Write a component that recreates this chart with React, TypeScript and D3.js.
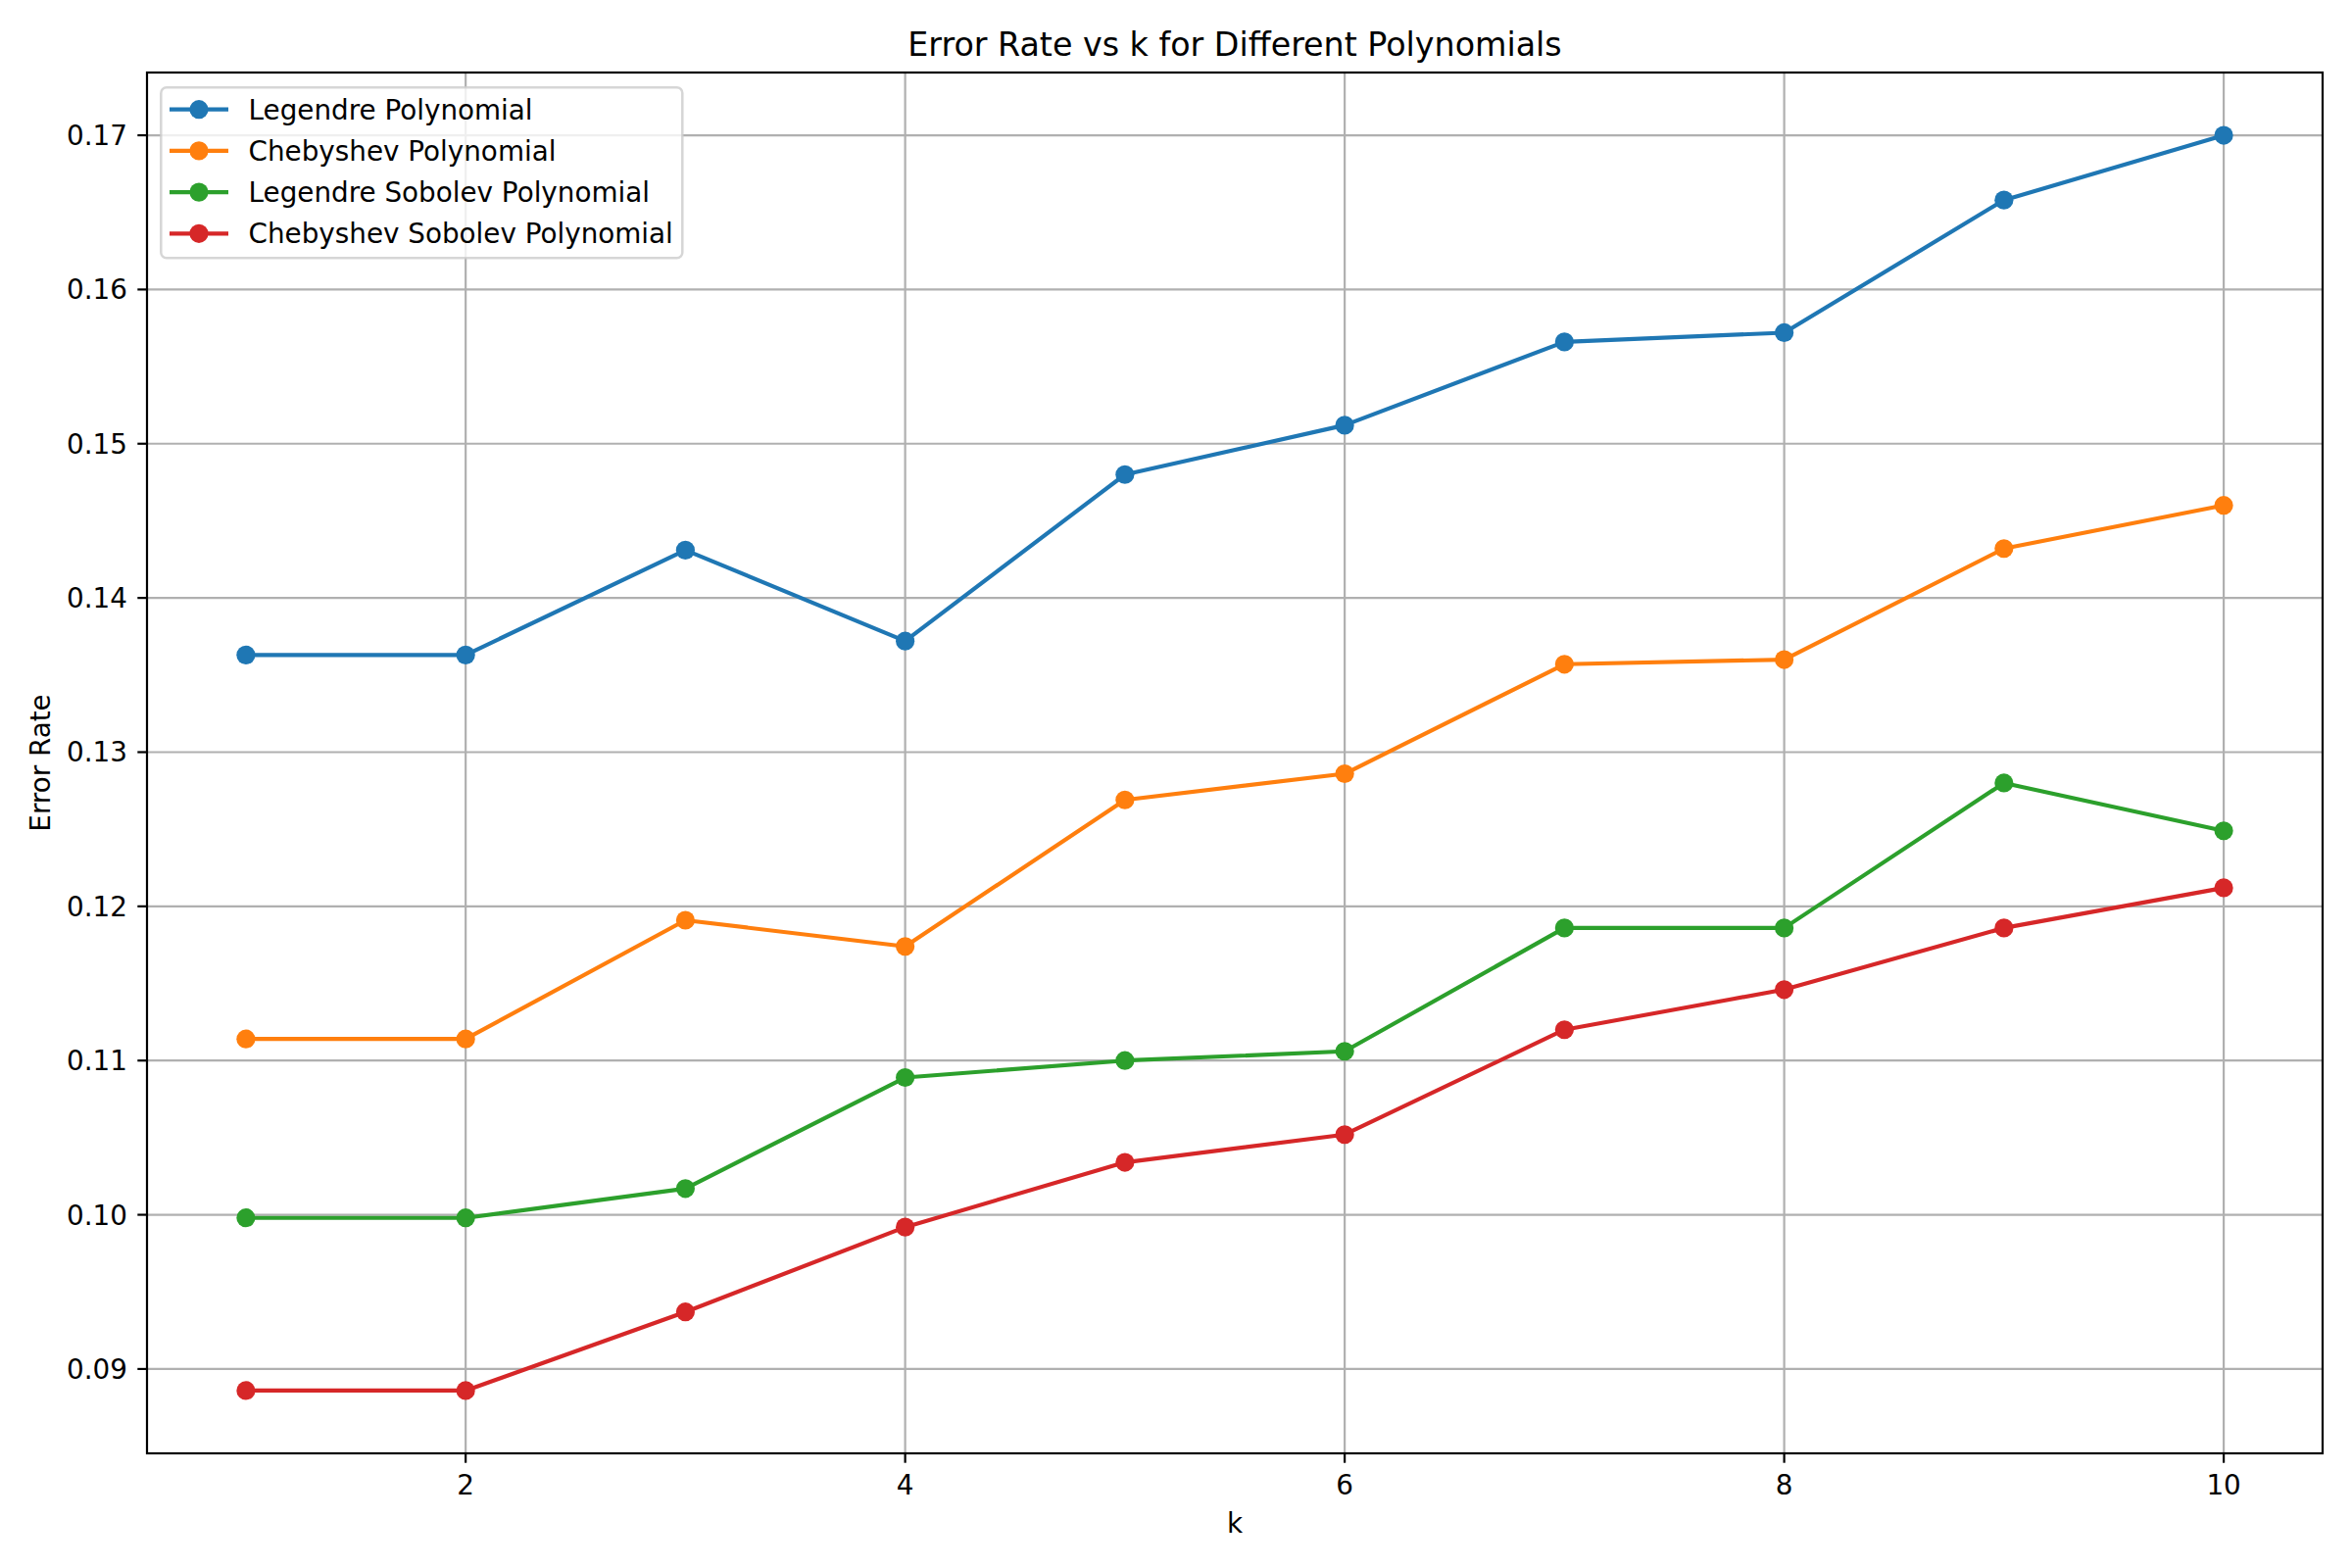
import React from "react";
import * as d3 from "d3";

const kValues = [1, 2, 3, 4, 5, 6, 7, 8, 9, 10];
const legendre = [0.1363, 0.1363, 0.1431, 0.1372, 0.1480, 0.1512, 0.1566, 0.1572, 0.1658, 0.1700];
const chebyshev = [0.1114, 0.1114, 0.1191, 0.1174, 0.1269, 0.1286, 0.1357, 0.1360, 0.1432, 0.1460];
const legendreSobolev = [0.0998, 0.0998, 0.1017, 0.1089, 0.1100, 0.1106, 0.1186, 0.1186, 0.1280, 0.1249];
const chebyshevSobolev = [0.0886, 0.0886, 0.0937, 0.0992, 0.1034, 0.1052, 0.1120, 0.1146, 0.1186, 0.1212];
const seriesNames = [
  "Legendre Polynomial",
  "Chebyshev Polynomial",
  "Legendre Sobolev Polynomial",
  "Chebyshev Sobolev Polynomial",
];
const xTicks = [2, 4, 6, 8, 10];
const yTicks = [0.09, 0.1, 0.11, 0.12, 0.13, 0.14, 0.15, 0.16, 0.17];
const colors = ["#1f77b4", "#ff7f0e", "#2ca02c", "#d62728"];

const W = 2400;
const H = 1600;
const L = 150, R = 2370, T = 74, B = 1483;
const FONT = "DejaVu Sans, sans-serif";

export default function App() {
  const series = [legendre, chebyshev, legendreSobolev, chebyshevSobolev];
  const all = series.flat();
  const yMin = d3.min(all)!;
  const yMax = d3.max(all)!;
  const yPad = (yMax - yMin) * 0.05;
  const xPad = (10 - 1) * 0.05;
  const x = d3.scaleLinear().domain([1 - xPad, 10 + xPad]).range([L, R]);
  const y = d3.scaleLinear().domain([yMin - yPad, yMax + yPad]).range([B, T]);
  const line = d3
    .line<number>()
    .x((_, i) => x(kValues[i]))
    .y((d) => y(d));

  const tickLen = 9.7;
  const legX = 164.3, legY = 89.3, legW = 532, legH = 174;
  const rowY0 = 111.7, rowStep = 42.2;
  const markerR = 9.6;

  return (
    <svg
      width={W}
      height={H}
      style={{ position: "absolute", left: 0, top: 0, background: "#fff" }}
      fontFamily={FONT}
    >
      <rect x={0} y={0} width={W} height={H} fill="#fff" />
      {/* grid */}
      {xTicks.map((t) => (
        <line key={"gx" + t} x1={x(t)} x2={x(t)} y1={T} y2={B} stroke="#b0b0b0" strokeWidth={2.2} />
      ))}
      {yTicks.map((t) => (
        <line key={"gy" + t} x1={L} x2={R} y1={y(t)} y2={y(t)} stroke="#b0b0b0" strokeWidth={2.2} />
      ))}
      {/* lines */}
      {series.map((s, si) => (
        <g key={"s" + si}>
          <path d={line(s)!} fill="none" stroke={colors[si]} strokeWidth={4.17} strokeLinejoin="round" strokeLinecap="square" />
          {s.map((v, i) => (
            <circle key={i} cx={x(kValues[i])} cy={y(v)} r={markerR} fill={colors[si]} />
          ))}
        </g>
      ))}
      {/* spines */}
      <rect x={L} y={T} width={R - L} height={B - T} fill="none" stroke="#000" strokeWidth={2.2} />
      {/* x ticks */}
      {xTicks.map((t) => (
        <g key={"xt" + t}>
          <line x1={x(t)} x2={x(t)} y1={B} y2={B + tickLen} stroke="#000" strokeWidth={2.2} />
          <text x={x(t)} y={1525} textAnchor="middle" fontSize={27.8} fill="#000">
            {t}
          </text>
        </g>
      ))}
      {/* y ticks */}
      {yTicks.map((t) => (
        <g key={"yt" + t}>
          <line x1={L - tickLen} x2={L} y1={y(t)} y2={y(t)} stroke="#000" strokeWidth={2.2} />
          <text x={130} y={y(t)} dy="0.36em" textAnchor="end" fontSize={27.8} fill="#000">
            {d3.format(".2f")(t)}
          </text>
        </g>
      ))}
      {/* labels */}
      <text x={(L + R) / 2} y={1564} textAnchor="middle" fontSize={27.8} fill="#000">
        k
      </text>
      <text
        transform={`translate(51, ${(T + B) / 2}) rotate(-90)`}
        textAnchor="middle"
        fontSize={27.8}
        fill="#000"
      >
        Error Rate
      </text>
      <text x={(L + R) / 2} y={57} textAnchor="middle" fontSize={33.3} fill="#000">
        Error Rate vs k for Different Polynomials
      </text>
      {/* legend */}
      <rect
        x={legX}
        y={legY}
        width={legW}
        height={legH}
        rx={5.6}
        ry={5.6}
        fill="#fff"
        fillOpacity={0.8}
        stroke="#cccccc"
        strokeOpacity={0.8}
        strokeWidth={2.5}
      />
      {seriesNames.map((name, i) => {
        const ry = rowY0 + i * rowStep;
        return (
          <g key={"lg" + i}>
            <line x1={173} x2={233} y1={ry} y2={ry} stroke={colors[i]} strokeWidth={4.17} />
            <circle cx={203} cy={ry} r={markerR} fill={colors[i]} />
            <text x={253.6} y={ry} dy="0.36em" fontSize={27.8} fill="#000">
              {name}
            </text>
          </g>
        );
      })}
    </svg>
  );
}
